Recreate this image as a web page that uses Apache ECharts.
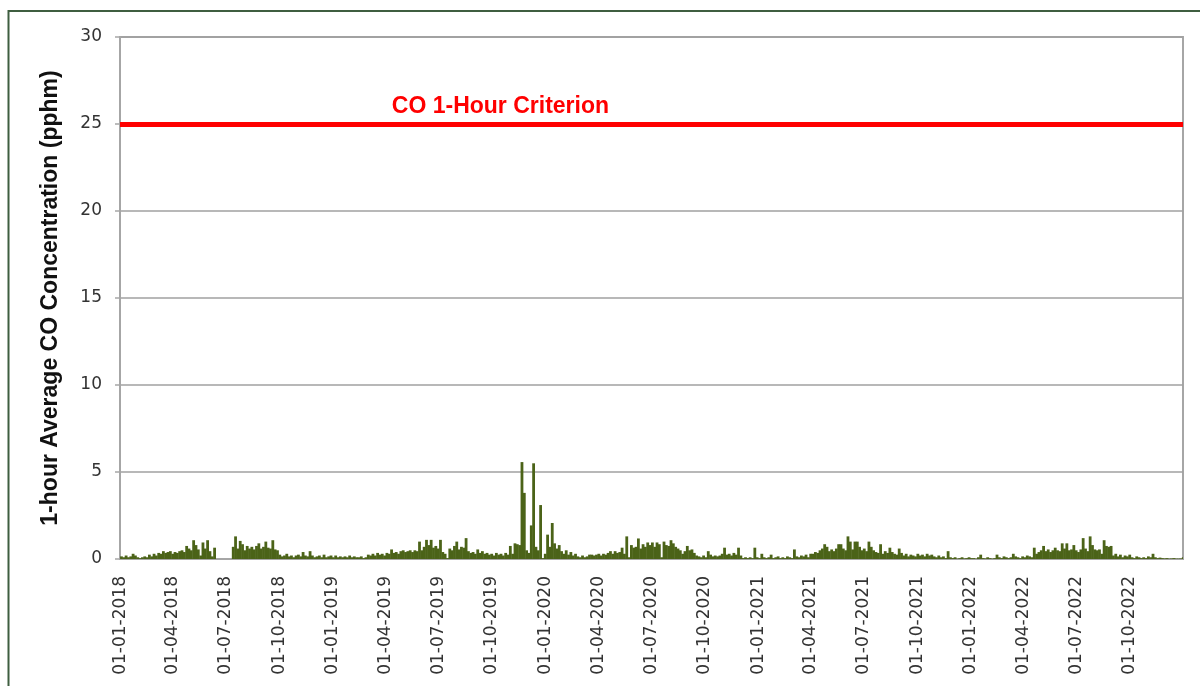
<!DOCTYPE html>
<html>
<head>
<meta charset="utf-8">
<script src="https://cdn.jsdelivr.net/npm/echarts@6/dist/echarts.min.js"></script>
<style>
  html, body { margin: 0; padding: 0; background: #ffffff; }
  #chart { width: 1200px; height: 686px; }
</style>
</head>
<body>
<div id="chart"></div>
<script>
// Daily-peak 1-hour average CO, grouped into consecutive 4-day periods starting 01-01-2018 (pphm).
// null marks periods with no valid data.
const co2018 = [
  0.15, 0.1, 0.2, 0.1, 0.15, 0.3,
  0.2, 0.1, 0.05, 0.1, 0.15, 0.1, 0.25, 0.15,
  0.3, 0.2, 0.35, 0.3, 0.45, 0.35, 0.4, 0.45, 0.3, 0.4, 0.35, 0.45, 0.5, 0.4,
  0.75, 0.6, 0.5, 1.08, 0.8, 0.55,
  0.2, 0.95, 0.6, 1.08, 0.45, 0.15, 0.65,
  null, null, null, null, null, null, null,
  0.7, 1.3, 0.6, 1.04, 0.85, 0.5, 0.75, 0.6, 0.7, 0.55, 0.75, 0.9, 0.6, 0.7, 1.0, 0.65, 0.6, 1.08, 0.55, 0.5,
  0.25, 0.15, 0.2, 0.3, 0.15, 0.2, 0.1, 0.2, 0.25, 0.15, 0.4, 0.2, 0.15, 0.45, 0.2,
  0.1, 0.15, 0.2, 0.1, 0.25, 0.1, 0.15, 0.2, 0.1
];
const co2019 = [
  0.2, 0.1, 0.15, 0.1, 0.15, 0.1, 0.2, 0.1, 0.15, 0.1,
  0.1, 0.15, 0.05, 0.1,
  0.25, 0.2, 0.3, 0.2, 0.35, 0.25, 0.3, 0.2, 0.35, 0.3,
  0.55, 0.35, 0.4, 0.3, 0.45, 0.5, 0.4, 0.45, 0.5, 0.4, 0.5,
  0.45, 1.0,
  0.5, 0.7, 1.1, 0.8, 1.1, 0.65, 0.75, 0.6, 1.1,
  0.4, 0.3, 0.05,
  0.6, 0.5, 0.75, 1.0, 0.55, 0.7, 0.65,
  1.2,
  0.45, 0.35, 0.4, 0.3, 0.55, 0.35, 0.45, 0.3, 0.35, 0.25, 0.3, 0.2, 0.35, 0.25, 0.3, 0.2, 0.35, 0.25, 0.75, 0.3,
  0.9, 0.85, 0.8,
  5.57, 3.8,
  0.5, 0.35, 1.93,
  5.5, 0.7, 0.5, 3.1, 0.05, 0.3
];
const co2020 = [
  1.4, 0.7, 2.07,
  0.9, 0.6, 0.8, 0.45, 0.3, 0.5, 0.25, 0.4, 0.2,
  0.3, 0.15, 0.1, 0.2, 0.1, 0.15, 0.25, 0.25, 0.2, 0.25, 0.3,
  0.2, 0.3, 0.25, 0.35, 0.45, 0.3, 0.45, 0.35, 0.4, 0.65, 0.3,
  1.3, 0.1,
  0.8, 0.65, 0.7, 1.18, 0.6, 0.85, 0.7, 0.95, 0.8, 0.95, 0.7, 0.95,
  0.85, 0.1,
  1.0, 0.8, 0.75, 1.08, 0.9,
  0.7, 0.6, 0.5,
  0.3, 0.45, 0.75, 0.5, 0.55,
  0.35, 0.2,
  0.15, 0.1, 0.2, 0.1, 0.45, 0.25, 0.15, 0.2, 0.15,
  0.2, 0.3, 0.65, 0.25,
  0.3, 0.2, 0.35, 0.25, 0.65,
  0.2, 0.05, 0.1, 0.05, 0.1,
  0.05, 0.65, 0.1
];
const co2021 = [
  0.05, 0.3, 0.1, 0.05, 0.1, 0.25, 0.05, 0.1, 0.15, 0.05, 0.1, 0.05, 0.15, 0.1, 0.05,
  0.55,
  0.15, 0.1, 0.2, 0.15, 0.25, 0.1, 0.3,
  0.3, 0.4, 0.35, 0.5, 0.6, 0.85, 0.7, 0.45, 0.55, 0.45, 0.6, 0.85,
  0.85, 0.6, 0.5,
  1.3,
  1.0, 0.55, 1.0,
  1.0, 0.7, 0.5,
  0.6, 0.45, 1.0, 0.7, 0.5, 0.4, 0.35, 0.85,
  0.3, 0.45, 0.35, 0.65, 0.4, 0.3, 0.25, 0.6, 0.35, 0.2, 0.3, 0.15, 0.25,
  0.2, 0.15, 0.3, 0.2, 0.25, 0.15, 0.3, 0.2, 0.25, 0.15, 0.1, 0.2, 0.1, 0.15, 0.05, 0.45, 0.1,
  0.05, 0.1, 0.02, 0.05, 0.1, 0.03, 0.05, 0.1, 0.05
];
const co2022 = [
  0.05, 0.02, 0.1, 0.25, 0.05, 0.03, 0.1, 0.05, 0.02,
  0.05, 0.25, 0.1, 0.05, 0.15, 0.1, 0.05, 0.1, 0.3, 0.15, 0.1, 0.05, 0.15, 0.1, 0.2, 0.15, 0.1,
  0.65, 0.3, 0.4, 0.5, 0.75, 0.45, 0.55, 0.4, 0.5, 0.65, 0.5, 0.45, 0.9, 0.6, 0.9, 0.5, 0.55, 0.8,
  0.5, 0.4, 0.55,
  1.2, 0.6,
  0.45, 1.3, 0.8,
  0.55, 0.5, 0.55, 0.3,
  1.08,
  0.75, 0.7, 0.75,
  0.2, 0.3, 0.15, 0.25, 0.1, 0.2, 0.15, 0.25,
  0.1, 0.05, 0.15, 0.1, 0.05, 0.1, 0.05, 0.15, 0.1, 0.3, 0.1, 0.05, 0.08, 0.05, 0.03, 0.05, 0.02, 0.03, 0.05, 0.02, 0.02, 0.03, 0.1
];

// Date axis labels, one per quarter
const quarterLabels = [
  '01-01-2018', '01-04-2018', '01-07-2018', '01-10-2018',
  '01-01-2019', '01-04-2019', '01-07-2019', '01-10-2019',
  '01-01-2020', '01-04-2020', '01-07-2020', '01-10-2020',
  '01-01-2021', '01-04-2021', '01-07-2021', '01-10-2021',
  '01-01-2022', '01-04-2022', '01-07-2022', '01-10-2022'
];

// Concentration axis
const yMin = 0, yMax = 30, yStep = 5;

// Air quality criterion
const criterionValue = 25;
const criterionText = 'CO 1-Hour Criterion';
const yAxisTitle = '1-hour Average CO Concentration (pphm)';

const PERIOD_DAYS = 4;
const pad2 = n => (n < 10 ? '0' : '') + n;
const fmtDMY = d => pad2(d.getDate()) + '-' + pad2(d.getMonth() + 1) + '-' + d.getFullYear();

// one category per calendar day, 01-01-2018 .. 31-12-2022
const days = [];
for (let d = new Date(2018, 0, 1); d.getFullYear() < 2023; d = new Date(d.getFullYear(), d.getMonth(), d.getDate() + 1)) {
  days.push(fmtDMY(d));
}
const quarterSet = new Set(quarterLabels);

const allValues = [].concat(co2018, co2019, co2020, co2021, co2022);
// each bar sits at the middle of its 4-day period
const seriesData = allValues.map((v, b) => [PERIOD_DAYS * b + PERIOD_DAYS / 2, v]);

const labelDay = days.indexOf('16-10-2019');

const chart = echarts.init(document.getElementById('chart'), null, { renderer: 'canvas' });

chart.setOption({
  animation: false,
  backgroundColor: '#ffffff',
  graphic: [{
    type: 'rect',
    silent: true,
    shape: { x: 8.5, y: 11, width: 1400, height: 900 },
    style: { fill: 'none', stroke: '#3f5e40', lineWidth: 2 }
  }],
  grid: {
    left: 120, right: 17, top: 37, bottom: 127,
    show: true, borderColor: '#a6a6a6', borderWidth: 2, backgroundColor: 'transparent'
  },
  xAxis: {
    type: 'category',
    data: days,
    axisLine: { show: true, lineStyle: { color: '#a6a6a6', width: 2 } },
    axisTick: { show: false },
    splitLine: { show: false },
    axisLabel: {
      interval: (i, v) => quarterSet.has(v),
      rotate: 90,
      margin: 17,
      color: '#333333',
      fontFamily: 'DejaVu Sans',
      fontSize: 17
    }
  },
  yAxis: {
    type: 'value',
    min: yMin, max: yMax, interval: yStep,
    name: yAxisTitle,
    nameLocation: 'middle',
    nameGap: 58,
    nameTextStyle: { fontFamily: 'Liberation Sans', fontWeight: 'bold', fontSize: 23, color: '#111111' },
    axisLine: { show: true, lineStyle: { color: '#a6a6a6', width: 2 } },
    axisTick: { show: true, length: 5, lineStyle: { color: '#a6a6a6', width: 1.5 } },
    splitLine: { show: true, lineStyle: { color: '#a0a0a0', width: 1.5 } },
    axisLabel: { margin: 18, color: '#333333', fontFamily: 'DejaVu Sans', fontSize: 17 }
  },
  series: [{
    type: 'bar',
    data: seriesData,
    barWidth: 2.8,
    itemStyle: { color: '#4b6318' },
    silent: true,
    markLine: {
      silent: true,
      symbol: ['none', 'none'],
      lineStyle: { color: '#ff0000', width: 5, type: 'solid' },
      label: { show: false },
      data: [{ yAxis: criterionValue }]
    },
    markPoint: {
      silent: true,
      symbol: 'circle',
      symbolSize: 0,
      itemStyle: { color: 'transparent' },
      data: [{
        coord: [labelDay, criterionValue],
        label: {
          show: true,
          position: 'top',
          distance: 6,
          formatter: criterionText,
          color: '#ff0000',
          fontFamily: 'Liberation Sans',
          fontWeight: 'bold',
          fontSize: 23
        }
      }]
    }
  }]
});
</script>
</body>
</html>
